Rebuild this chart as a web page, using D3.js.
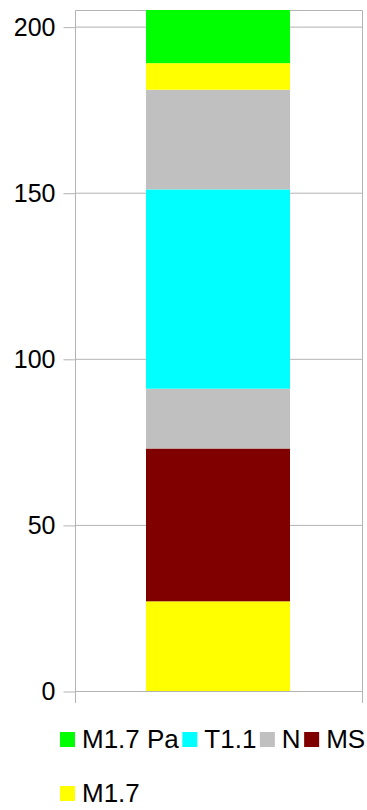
<!DOCTYPE html>
<html>
<head>
<meta charset="utf-8">
<script src="https://cdn.jsdelivr.net/npm/d3@7"></script>
<style>
  html, body { margin: 0; padding: 0; background: #fff; }
  svg { display: block; }
  text { font-family: "Liberation Sans", Arial, sans-serif; fill: #000; }
</style>
</head>
<body>
<svg id="chart" width="367" height="810"></svg>
<script>
// Stacked segments, bottom to top
const segLabels = ["M1.7", "MS", "N", "T1.1", "N", "M1.7", "M1.7 Pa"];
const segValues = [27, 46, 18, 60, 30, 8, 16];
const seriesColors = {
  "M1.7 Pa": "#00ff00",
  "T1.1": "#00ffff",
  "N": "#c0c0c0",
  "MS": "#800000",
  "M1.7": "#ffff00"
};
const legendLabels = ["M1.7 Pa", "T1.1", "N", "MS", "M1.7"];
const yTicks = [0, 50, 100, 150, 200];
const yMax = 205;

const svg = d3.select("#chart");
const tickFont = 25;
const legendFont = 26;

const plot = { left: 75, right: 362, top: 10, bottom: 691 };

const y = d3.scaleLinear().domain([0, yMax]).range([plot.bottom, plot.top]);

const gridColor = "#b3b3b3";

// horizontal gridlines
svg.append("g").selectAll("line").data(yTicks).join("line")
  .attr("x1", plot.left).attr("x2", plot.right)
  .attr("y1", d => y(d) + 0.5).attr("y2", d => y(d) + 0.5)
  .attr("stroke", gridColor).attr("stroke-width", 1);

// plot frame (top, left, right)
svg.append("path")
  .attr("d", `M${plot.left + 0.5},${plot.bottom} V${plot.top + 0.5} H${plot.right + 0.5} V${plot.bottom}`)
  .attr("fill", "none").attr("stroke", gridColor);

// stacked segments
const stacked = [];
let acc = 0;
segValues.forEach((v, i) => { stacked.push({ label: segLabels[i], y0: acc, y1: acc + v }); acc += v; });

const barX = 146, barW = 144;
svg.append("g").selectAll("rect").data(stacked).join("rect")
  .attr("x", barX)
  .attr("width", barW)
  .attr("y", d => y(d.y1))
  .attr("height", d => y(d.y0) - y(d.y1))
  .attr("fill", d => seriesColors[d.label]);

// y axis
const yAxis = d3.axisLeft(y).tickValues(yTicks).tickSize(12).tickPadding(8);
const gy = svg.append("g").attr("transform", `translate(${plot.left + 0.5},0.5)`).call(yAxis);
gy.select(".domain").remove();
gy.selectAll(".tick line").attr("stroke", gridColor);
gy.selectAll(".tick text").attr("font-size", tickFont).attr("font-family", "Liberation Sans, Arial, sans-serif").attr("fill", "#000");

// bottom axis line and end ticks
svg.append("line")
  .attr("x1", plot.left).attr("x2", plot.right + 1)
  .attr("y1", plot.bottom + 0.5).attr("y2", plot.bottom + 0.5)
  .attr("stroke", gridColor);
[plot.left, plot.right].forEach(px => {
  svg.append("line")
    .attr("x1", px + 0.5).attr("x2", px + 0.5)
    .attr("y1", plot.bottom).attr("y2", plot.bottom + 12)
    .attr("stroke", gridColor);
});

// legend
const legendRows = [
  { y: 748, items: legendLabels.slice(0, 4) },
  { y: 802, items: legendLabels.slice(4) }
];
const lg = svg.append("g");
legendRows.forEach(row => {
  let cx = 60;
  row.items.forEach(lab => {
    lg.append("rect").attr("x", cx).attr("y", row.y - 16).attr("width", 15).attr("height", 15)
      .attr("fill", seriesColors[lab]);
    const t = lg.append("text").attr("x", cx + 22).attr("y", row.y)
      .attr("font-size", legendFont).text(lab);
    cx += 22 + t.node().getComputedTextLength() + 3.5;
  });
});
</script>
</body>
</html>
